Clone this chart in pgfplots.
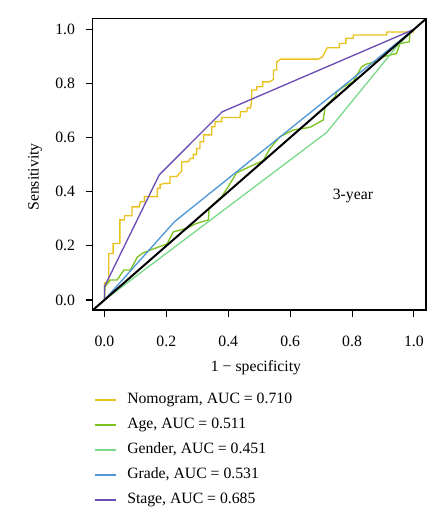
\documentclass[border=0pt]{standalone}
\usepackage{fontspec}
\setmainfont{Liberation Serif}
\usepackage{pgfplots}
\pgfplotsset{compat=1.18}
\definecolor{cNomo}{HTML}{EBC11E}
\definecolor{cAge}{HTML}{7DC31E}
\definecolor{cGender}{HTML}{7CD98C}
\definecolor{cGrade}{HTML}{4F97D6}
\definecolor{cStage}{HTML}{6C4DB7}
\begin{document}
\begin{tikzpicture}[font=\fontsize{11.8}{14}\selectfont]
\path[use as bounding box] (-69.5pt,-152.25pt) rectangle (255.2pt,232.5pt);
\begin{axis}[
  at={(0pt,0pt)}, anchor=south west,
  scale only axis, width=250pt, height=218.8pt,
  xmin=-0.038, xmax=1.039, ymin=-0.037, ymax=1.041,
  xtick={0,0.2,0.4,0.6,0.8,1}, ytick={0,0.2,0.4,0.6,0.8,1},
  xticklabels={0.0,0.2,0.4,0.6,0.8,1.0},
  yticklabels={0.0,0.2,0.4,0.6,0.8,1.0},
  xticklabel style={yshift=-11pt},
  yticklabel style={xshift=-4.5pt},
  tick align=outside, tick pos=left,
  major tick length=5.25pt,
  axis line style={line width=0.8pt},
  every tick/.style={black, line width=0.8pt},
  xlabel={1 − specificity}, ylabel={Sensitivity},
  xlabel style={at={(axis description cs:0.49,-0.199)}, anchor=center},
  ylabel style={at={(axis description cs:-0.173,0.456)}, anchor=center},
  legend style={at={(axis description cs:-0.008,-0.274)}, anchor=north west,
    draw=none, fill=none, row sep=8.25pt,
    nodes={inner sep=0pt, text height=8pt, text depth=2.5pt, anchor=west}},
  legend cell align=left,
  legend image code/.code={\draw[#1] (0pt,0pt) -- (15.75pt,0pt); \path (23.75pt,0pt);},
  clip=true,
]
\addplot[cNomo, line width=1pt] coordinates {
(0,0)(0,0.064)(0.014,0.064)(0.014,0.172)(0.028,0.172)(0.028,0.209)(0.050,0.209)(0.050,0.296)(0.065,0.296)(0.065,0.311)(0.089,0.311)(0.089,0.344)(0.112,0.344)(0.116,0.363)(0.129,0.363)(0.129,0.382)(0.171,0.382)(0.171,0.413)(0.180,0.413)(0.180,0.427)(0.196,0.431)(0.212,0.431)(0.212,0.456)(0.234,0.456)(0.239,0.464)(0.250,0.477)(0.250,0.511)(0.271,0.511)(0.277,0.523)(0.287,0.523)(0.287,0.538)(0.298,0.538)(0.298,0.560)(0.309,0.560)(0.309,0.585)(0.321,0.585)(0.321,0.610)(0.347,0.610)(0.347,0.640)(0.357,0.640)(0.357,0.659)(0.379,0.659)(0.379,0.674)(0.390,0.674)(0.438,0.674)(0.440,0.696)(0.460,0.696)(0.462,0.710)(0.472,0.710)(0.476,0.739)(0.476,0.776)(0.492,0.776)(0.492,0.788)(0.511,0.788)(0.511,0.806)(0.533,0.806)(0.546,0.815)(0.546,0.850)(0.557,0.850)(0.557,0.880)(0.570,0.890)(0.691,0.890)(0.705,0.899)(0.713,0.917)(0.720,0.932)(0.759,0.932)(0.759,0.948)(0.780,0.948)(0.780,0.967)(0.804,0.967)(0.804,0.979)(0.912,0.979)(0.912,0.990)(0.998,0.990)(1,1)
};
\addlegendentry{Nomogram, AUC = 0.710}
\addplot[cAge, line width=1pt] coordinates {
(0,0)(0.002,0.049)(0.019,0.074)(0.041,0.074)(0.063,0.111)(0.084,0.111)(0.098,0.141)(0.106,0.158)(0.122,0.172)(0.149,0.185)(0.202,0.207)(0.223,0.252)(0.266,0.265)(0.298,0.283)(0.336,0.296)(0.338,0.339)(0.379,0.382)(0.400,0.419)(0.427,0.470)(0.470,0.493)(0.513,0.515)(0.535,0.560)(0.567,0.603)(0.610,0.628)(0.664,0.638)(0.707,0.665)(0.713,0.714)(0.745,0.751)(0.751,0.770)(0.773,0.788)(0.804,0.807)(0.831,0.862)(0.847,0.872)(0.879,0.881)(0.901,0.899)(0.944,0.911)(0.955,0.948)(0.985,0.954)(0.987,0.985)(1,1)
};
\addlegendentry{Age, AUC = 0.511}
\addplot[cGender, line width=1pt] coordinates {
(0,0)(0.718,0.619)(0.944,0.936)(1,1)
};
\addlegendentry{Gender, AUC = 0.451}
\addplot[cGrade, line width=1pt] coordinates {
(0,0)(0.226,0.289)(1,1)
};
\addlegendentry{Grade, AUC = 0.531}
\addplot[cStage, line width=1pt] coordinates {
(0,0)(0,0.049)(0.177,0.462)(0.380,0.695)(1,1)
};
\addlegendentry{Stage, AUC = 0.685}
\addplot[black, line width=1.5pt, forget plot] coordinates {(-0.05,-0.05)(1.05,1.05)};
\node[anchor=center] at (axis cs:0.803,0.384) {3-year};
\end{axis}
\end{tikzpicture}
\end{document}
